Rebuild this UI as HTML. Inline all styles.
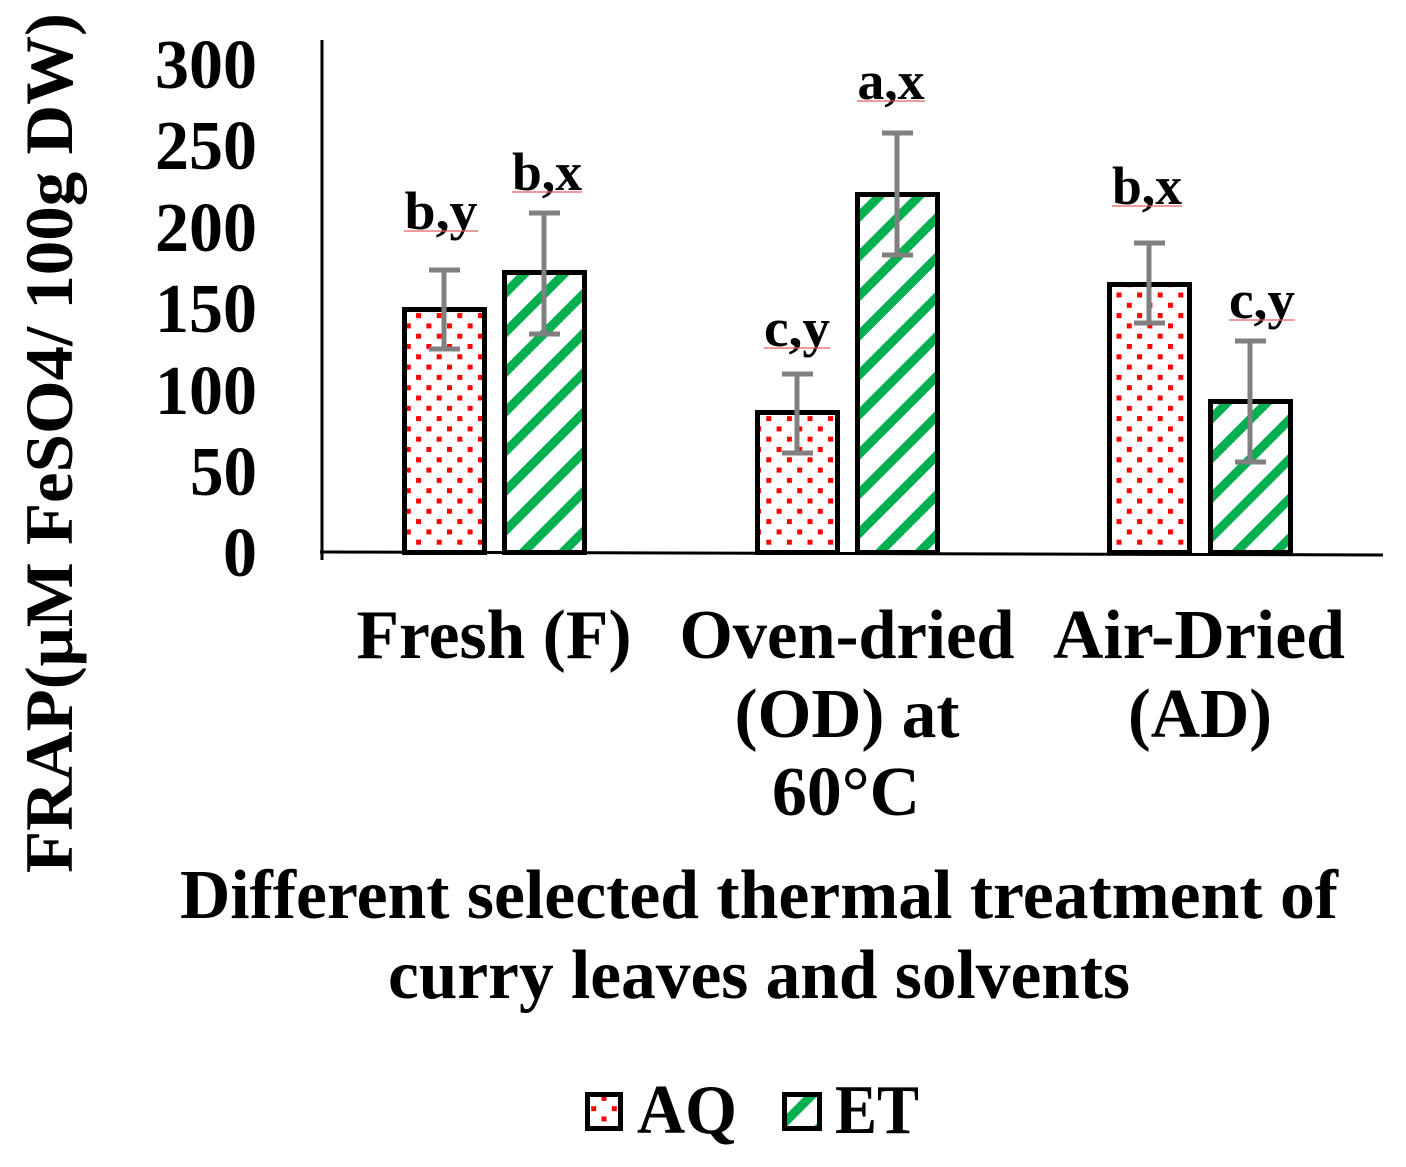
<!DOCTYPE html>
<html>
<head>
<meta charset="utf-8">
<style>
  html,body{margin:0;padding:0;background:#fff;}
  svg{display:block;}
  text{font-family:"Liberation Serif","DejaVu Serif",serif;font-weight:bold;fill:#000;}
</style>
</head>
<body>
<svg width="1406" height="1167" viewBox="0 0 1406 1167" xmlns="http://www.w3.org/2000/svg">
  <defs>
    <pattern id="dots" patternUnits="userSpaceOnUse" width="20.6" height="20.6" x="1116.5" y="292.5">
      <rect width="20.6" height="20.6" fill="#fff"/>
      <rect x="0" y="0" width="5" height="5" fill="#ff0000"/>
      <rect x="10.3" y="10.3" width="5" height="5" fill="#ff0000"/>
    </pattern>
    <pattern id="stripes" patternUnits="userSpaceOnUse" width="28" height="28" patternTransform="rotate(45)">
      <rect width="28" height="28" fill="#fff"/>
      <rect x="0" y="0" width="9" height="28" fill="#00b050"/>
    </pattern>
  </defs>

  <rect width="1406" height="1167" fill="#fff"/>

  <!-- Y axis title -->
  <text transform="translate(72,443) rotate(-90)" font-size="68" text-anchor="middle" textLength="860" lengthAdjust="spacingAndGlyphs">FRAP(μM FeSO4/ 100g DW)</text>

  <!-- Y tick labels -->
  <g font-size="70" text-anchor="end">
    <text x="257" y="88" textLength="102" lengthAdjust="spacingAndGlyphs">300</text>
    <text x="257" y="169" textLength="102" lengthAdjust="spacingAndGlyphs">250</text>
    <text x="257" y="251" textLength="102" lengthAdjust="spacingAndGlyphs">200</text>
    <text x="257" y="332" textLength="102" lengthAdjust="spacingAndGlyphs">150</text>
    <text x="257" y="414" textLength="102" lengthAdjust="spacingAndGlyphs">100</text>
    <text x="257" y="495" textLength="67" lengthAdjust="spacingAndGlyphs">50</text>
    <text x="257" y="576" textLength="34" lengthAdjust="spacingAndGlyphs">0</text>
  </g>

  <!-- Bars -->
  <g stroke="#000" stroke-width="5">
    <rect x="404.5" y="309.5" width="80" height="243" fill="url(#dots)"/>
    <rect x="504.5" y="272.5" width="80" height="280" fill="url(#stripes)"/>
    <rect x="757.5" y="412.5" width="80" height="140" fill="url(#dots)"/>
    <rect x="857.5" y="194.5" width="80" height="358" fill="url(#stripes)"/>
    <rect x="1109.5" y="284.5" width="80" height="268" fill="url(#dots)"/>
    <rect x="1210.5" y="401.5" width="80" height="151" fill="url(#stripes)"/>
  </g>

  <!-- Axes -->
  <line x1="322" y1="40" x2="322" y2="560" stroke="#000" stroke-width="3"/>
  <line x1="320" y1="552" x2="1383" y2="555" stroke="#000" stroke-width="3"/>

  <!-- Error bars -->
  <g stroke="#808080" stroke-width="5" fill="none">
    <path d="M444 270 V349 M429 270 H460 M429 349 H460"/>
    <path d="M544 213 V334 M529 213 H560 M529 334 H560"/>
    <path d="M797 374 V453 M782 374 H813 M782 453 H813"/>
    <path d="M897 133 V255 M882 133 H913 M882 255 H913"/>
    <path d="M1149 243 V323 M1134 243 H1165 M1134 323 H1165"/>
    <path d="M1250 341 V462 M1235 341 H1266 M1235 462 H1266"/>
  </g>

  <!-- Significance labels -->
  <g font-size="54" text-anchor="middle">
    <text x="441" y="229" textLength="73" lengthAdjust="spacingAndGlyphs">b,y</text>
    <text x="547" y="190" textLength="70" lengthAdjust="spacingAndGlyphs">b,x</text>
    <text x="797" y="346" textLength="66" lengthAdjust="spacingAndGlyphs">c,y</text>
    <text x="891" y="99" textLength="67" lengthAdjust="spacingAndGlyphs">a,x</text>
    <text x="1147" y="204" textLength="70" lengthAdjust="spacingAndGlyphs">b,x</text>
    <text x="1262" y="318" textLength="66" lengthAdjust="spacingAndGlyphs">c,y</text>
  </g>
  <g stroke="#e06060" stroke-width="1.2">
    <line x1="404" y1="231" x2="478" y2="231"/>
    <line x1="512" y1="192" x2="582" y2="192"/>
    <line x1="764" y1="348" x2="830" y2="348"/>
    <line x1="857" y1="101" x2="925" y2="101"/>
    <line x1="1112" y1="206" x2="1182" y2="206"/>
    <line x1="1229" y1="320" x2="1295" y2="320"/>
  </g>

  <!-- X category labels -->
  <g font-size="70" text-anchor="middle">
    <text x="494" y="658" textLength="275" lengthAdjust="spacingAndGlyphs">Fresh (F)</text>
    <text x="847" y="658" textLength="335" lengthAdjust="spacingAndGlyphs">Oven-dried</text>
    <text x="847" y="737" textLength="225" lengthAdjust="spacingAndGlyphs">(OD) at</text>
    <text x="846" y="815" textLength="148" lengthAdjust="spacingAndGlyphs">60°C</text>
    <text x="1199" y="658" textLength="292" lengthAdjust="spacingAndGlyphs">Air-Dried</text>
    <text x="1200" y="737" textLength="144" lengthAdjust="spacingAndGlyphs">(AD)</text>
  </g>

  <!-- X axis title -->
  <g font-size="70" text-anchor="middle">
    <text x="759" y="918" textLength="1158" lengthAdjust="spacingAndGlyphs">Different selected thermal treatment of</text>
    <text x="759" y="998" textLength="742" lengthAdjust="spacingAndGlyphs">curry leaves and solvents</text>
  </g>

  <!-- Legend -->
  <rect x="587.5" y="1094.5" width="33" height="34" fill="url(#dots)" stroke="#000" stroke-width="5"/>
  <text x="637" y="1133" font-size="70" textLength="100" lengthAdjust="spacingAndGlyphs">AQ</text>
  <rect x="784.5" y="1094.5" width="35" height="34" fill="url(#stripes)" stroke="#000" stroke-width="5"/>
  <text x="835" y="1133" font-size="70" textLength="84" lengthAdjust="spacingAndGlyphs">ET</text>
</svg>
</body>
</html>
